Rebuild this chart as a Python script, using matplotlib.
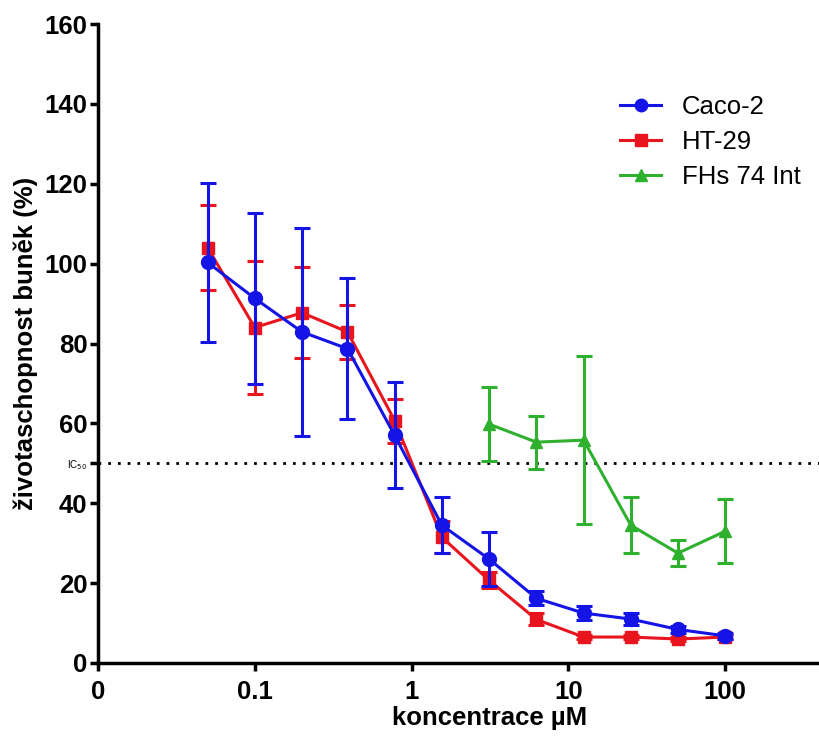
"""
Viability of cell lines versus concentration (log axis), with IC50 line.
"""
import matplotlib
matplotlib.use('Agg')
import matplotlib.pyplot as plt
from matplotlib.lines import Line2D

# concentrations in uM
conc = [0.05, 0.1, 0.2, 0.39, 0.78, 1.56, 3.125, 6.25, 12.5, 25, 50, 100]
conc_fhs = [3.125, 6.25, 12.5, 25, 50, 100]

caco2_mean = [100.3, 91.3, 82.9, 78.7, 57.0, 34.5, 26.0, 16.2, 12.5, 11.0, 8.4, 6.8]
caco2_err = [19.8, 21.4, 26.0, 17.6, 13.3, 7.0, 6.8, 1.8, 1.8, 1.5, 0.8, 0.7]

ht29_mean = [104.0, 84.0, 87.7, 82.9, 60.7, 31.5, 20.7, 10.9, 6.5, 6.5, 6.0, 6.5]
ht29_err = [10.6, 16.7, 11.4, 6.7, 5.5, 4.0, 2.0, 1.5, 0.5, 0.5, 0.5, 0.5]

fhs_mean = [59.8, 55.3, 55.8, 34.5, 27.5, 33.0]
fhs_err = [9.2, 6.6, 21.0, 7.0, 3.3, 8.0]

ic50 = 50
x_ticks = [0.01, 0.1, 1, 10, 100]
x_tick_labels = ['0', '0.1', '1', '10', '100']
y_ticks = [0, 20, 40, 50, 60, 80, 100, 120, 140, 160]
y_tick_labels = ['0', '20', '40', 'IC$_{50}$', '60', '80', '100', '120', '140', '160']

plt.rcParams['font.family'] = ['Liberation Sans', 'DejaVu Sans']

fig = plt.figure(figsize=(8.19, 7.36), dpi=100)
ax = fig.add_axes([98 / 819, 73 / 736, 784 / 819, 639 / 736])

blue = '#1414e6'
red = '#e8141e'
green = '#2fb02f'

common = dict(linewidth=2.2, elinewidth=2.2, capsize=6, capthick=2.2)
ax.errorbar(conc_fhs, fhs_mean, yerr=fhs_err, color=green, marker='^',
            markersize=9, zorder=3, **common)
ax.errorbar(conc, ht29_mean, yerr=ht29_err, color=red, marker='s',
            markersize=9, zorder=4, **common)
ax.errorbar(conc, caco2_mean, yerr=caco2_err, color=blue, marker='o',
            markersize=10, zorder=5, **common)

ax.axhline(ic50, color='black', linestyle=(0, (1, 2.5)), linewidth=2, zorder=2)

ax.set_xscale('log')
ax.set_xlim(0.01, 1000)
ax.set_ylim(0, 160)
ax.set_xticks(x_ticks)
ax.set_xticklabels(x_tick_labels)
ax.minorticks_off()
ax.set_yticks(y_ticks)
ax.set_yticklabels(y_tick_labels)

for spine in ['top', 'right']:
    ax.spines[spine].set_visible(False)
for spine in ['left', 'bottom']:
    ax.spines[spine].set_linewidth(2.5)
ax.tick_params(width=2.5, length=6, labelsize=18.5)
ax.tick_params(axis='x', pad=6)
ax.tick_params(axis='y', pad=1.5)
for label in ax.get_xticklabels() + ax.get_yticklabels():
    label.set_fontweight('bold')
ic_label = ax.get_yticklabels()[3]
ic_label.set_fontsize(7)
ic_label.set_fontweight('normal')

ax.set_xlabel('koncentrace µM', fontsize=18.5, fontweight='bold', labelpad=2)
ax.set_ylabel('životaschopnost buněk (%)', fontsize=18.5, fontweight='bold',
              labelpad=5)

handles = [
    Line2D([], [], color=blue, marker='o', markersize=9, linewidth=2.2),
    Line2D([], [], color=red, marker='s', markersize=8, linewidth=2.2),
    Line2D([], [], color=green, marker='^', markersize=8, linewidth=2.2),
]
ax.legend(handles, ['Caco-2', 'HT-29', 'FHs 74 Int'],
          loc='upper left', bbox_to_anchor=(597 / 819, 1 - 72 / 736),
          bbox_transform=fig.transFigure, frameon=False, fontsize=18.5,
          handlelength=1.6, handletextpad=0.8, labelspacing=0.42)

fig.savefig('out.png', dpi=100)
